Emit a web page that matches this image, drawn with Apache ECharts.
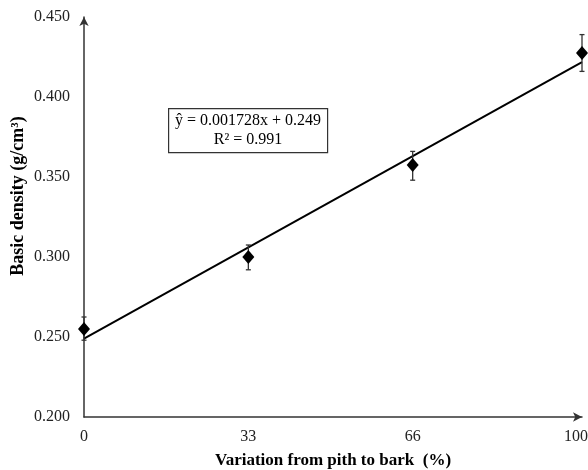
<!DOCTYPE html>
<html>
<head>
<meta charset="utf-8">
<script src="https://cdn.jsdelivr.net/npm/echarts@6/dist/echarts.min.js"></script>
<style>
  html, body { margin: 0; padding: 0; background: #fff; }
  #chart { width: 588px; height: 470px; }
</style>
</head>
<body>
<div id="chart"></div>
<script>
// position from pith to bark (%)
const positions = [0, 33, 66, 100]
const density = [0.255, 0.300, 0.3575, 0.4275]
const errLow = [0.248, 0.292, 0.348, 0.416]
const errHigh = [0.2625, 0.3075, 0.366, 0.439]
// fitted line end points
const fitLine = [[0, 0.249], [100, 0.4218]]
const xTicks = [0, 33, 66, 100]

const font = 'Liberation Serif'
const chart = echarts.init(document.getElementById('chart'))

chart.setOption({
  animation: false,
  grid: { left: 84, right: 6, top: 17, bottom: 53, outerBoundsMode: 'none' },
  xAxis: {
    type: 'value',
    min: 0,
    max: 100,
    name: 'Variation from pith to bark  (%)',
    nameLocation: 'middle',
    nameGap: 35,
    nameTextStyle: { fontFamily: font, fontWeight: 'bold', fontSize: 17, color: '#000' },
    axisLine: {
      show: true,
      symbol: ['none', 'arrow'],
      symbolSize: [7, 9],
      lineStyle: { color: '#333', width: 1.5 }
    },
    axisTick: { show: false },
    splitLine: { show: false },
    axisLabel: {
      customValues: xTicks,
      margin: 12,
      fontFamily: font,
      fontSize: 16,
      color: '#222',
      // last label sits at the page edge, nudge it left a bit
      formatter: v => v === 100 ? '{edge|' + v + '}' : String(v),
      rich: {
        edge: { fontFamily: font, fontSize: 16, color: '#222', padding: [0, 12, 0, 0] }
      }
    }
  },
  yAxis: {
    type: 'value',
    min: 0.2,
    max: 0.45,
    interval: 0.05,
    axisLine: {
      show: true,
      symbol: ['none', 'arrow'],
      symbolSize: [7, 9],
      lineStyle: { color: '#333', width: 1.5 }
    },
    axisTick: { show: false },
    splitLine: { show: false },
    axisLabel: {
      margin: 14,
      fontFamily: font,
      fontSize: 16,
      color: '#222',
      formatter: v => v.toFixed(3)
    }
  },
  graphic: [
    {
      type: 'text',
      x: 18,
      y: 196,
      rotation: Math.PI / 2,
      style: {
        text: 'Basic density (g/cm³)',
        align: 'center', verticalAlign: 'middle',
        fontFamily: font, fontWeight: 'bold', fontSize: 18, fill: '#000'
      }
    },
    {
      type: 'group',
      left: 168,
      top: 108,
      children: [
        {
          type: 'rect',
          shape: { x: 0, y: 0, width: 159, height: 44 },
          style: { fill: '#fff', stroke: '#333', lineWidth: 1.2 }
        },
        {
          type: 'text',
          style: {
            x: 79.5, y: 3, text: 'ŷ = 0.001728x + 0.249\nR² = 0.991',
            align: 'center', fontFamily: font, fontSize: 16, lineHeight: 19, fill: '#000'
          }
        }
      ]
    }
  ],
  series: [
    {
      type: 'line',
      data: fitLine,
      symbol: 'none',
      lineStyle: { color: '#000', width: 2 },
      z: 2
    },
    {
      type: 'custom',
      data: positions.map((x, i) => [x, errLow[i], errHigh[i]]),
      renderItem: (params, api) => {
        const lo = api.coord([api.value(0), api.value(1)])
        const hi = api.coord([api.value(0), api.value(2)])
        const w = 2.5
        const st = { stroke: '#333', lineWidth: 1.3 }
        return {
          type: 'group',
          children: [
            { type: 'line', shape: { x1: lo[0], y1: lo[1], x2: hi[0], y2: hi[1] }, style: st },
            { type: 'line', shape: { x1: lo[0] - w, y1: lo[1], x2: lo[0] + w, y2: lo[1] }, style: st },
            { type: 'line', shape: { x1: hi[0] - w, y1: hi[1], x2: hi[0] + w, y2: hi[1] }, style: st }
          ]
        }
      },
      z: 3
    },
    {
      type: 'scatter',
      data: positions.map((x, i) => [x, density[i]]),
      symbol: 'diamond',
      symbolSize: [12, 14],
      itemStyle: { color: '#000', opacity: 1 },
      z: 4
    }
  ]
})
</script>
</body>
</html>
